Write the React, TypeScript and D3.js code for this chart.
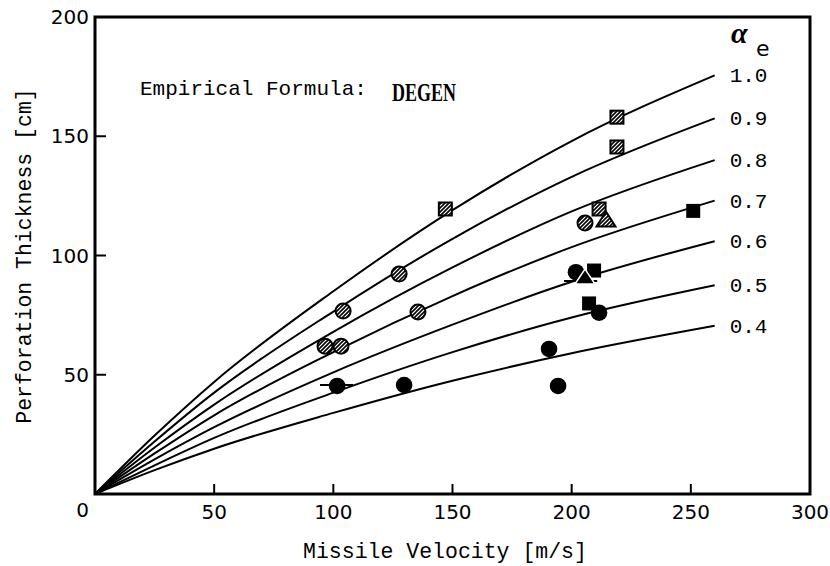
import React from "react";
import * as d3 from "d3";

// ---- data ----
const velocities = [0, 25, 50, 100, 150, 200, 260];
const alphaLabels = ["1.0", "0.9", "0.8", "0.7", "0.6", "0.5", "0.4"];
const curveA10 = [0, 24.5, 47, 85, 119, 148, 175.5];
const curveA09 = [0, 22, 42.5, 76.5, 107, 133, 157.5];
const curveA08 = [0, 19.5, 37.5, 68, 95, 118.5, 140];
const curveA07 = [0, 17, 33, 59.5, 83, 103.5, 123];
const curveA06 = [0, 14.5, 28, 51, 71, 89, 106];
const curveA05 = [0, 12, 23.5, 42.5, 59.5, 74, 87.5];
const curveA04 = [0, 10, 19, 34, 47.5, 59, 70.5];
const curves = [curveA10, curveA09, curveA08, curveA07, curveA06, curveA05, curveA04];

const xTicks = [50, 100, 150, 200, 250, 300];
const yTicks = [50, 100, 150, 200];

// markers: [velocity, thickness]
const hatchedSquares = [[147, 119.5], [219, 158], [219, 145.5], [211.5, 119.5]];
const hatchedCircles = [[205.6, 113.6], [127.6, 92.2], [104.1, 76.7], [135.5, 76.3], [96.5, 62], [103.2, 62]];
const hatchedTriangles = [[214.4, 115.3]];
const filledCircles = [[211.5, 76], [190.5, 60.8], [194.3, 45.3], [129.7, 45.7], [101.6, 45.3], [201.8, 93]];
const filledSquares = [[251, 118.7], [209.4, 93.7], [207.3, 79.9]];
const filledTriangles = [[205.6, 91.2]];
// horizontal bars: [vLow, vHigh, thickness]
const bars = [[94.4, 108.3, 45.7], [196.8, 210.7, 89.3]];

export default function App() {
  const x = d3.scaleLinear().domain([0, 300]).range([95, 810]);
  const y = d3.scaleLinear().domain([0, 200]).range([494, 17]);
  const line = d3
    .line<number>()
    .x((_, i) => x(velocities[i]))
    .y((d) => y(d))
    .curve(d3.curveMonotoneX);

  const mono = "'Liberation Mono', 'DejaVu Sans Mono', monospace";
  const sans = "'DejaVu Sans', sans-serif";
  const tri = (cx: number, cy: number, w: number, h: number) =>
    `M${cx - w / 2},${cy + h / 2}L${cx},${cy - h / 2}L${cx + w / 2},${cy + h / 2}Z`;

  return (
    <svg
      width={830}
      height={566}
      style={{ position: "absolute", left: 0, top: 0, background: "#fff" }}
    >
      <defs>
        <pattern id="hatch" patternUnits="userSpaceOnUse" width={4} height={4}>
          <rect width={4} height={4} fill="#fff" />
          <path d="M-1,1 l2,-2 M0,4 l4,-4 M3,5 l2,-2" stroke="#000" strokeWidth={1.6} />
        </pattern>
      </defs>

      {/* frame */}
      <rect
        x={x(0)}
        y={y(200)}
        width={x(300) - x(0)}
        height={y(0) - y(200)}
        fill="none"
        stroke="#000"
        strokeWidth={3}
      />
      {/* ticks */}
      {xTicks.slice(0, -1).map((t) => (
        <line key={"xt" + t} x1={x(t)} x2={x(t)} y1={y(0)} y2={y(0) - 10} stroke="#000" strokeWidth={2} />
      ))}
      {yTicks.slice(0, -1).map((t) => (
        <line key={"yt" + t} x1={x(0)} x2={x(0) + 11} y1={y(t)} y2={y(t)} stroke="#000" strokeWidth={2} />
      ))}
      {xTicks.map((t) => (
        <text key={"xl" + t} x={x(t)} y={y(0) + 25} textAnchor="middle" fontFamily={sans} fontSize={20}>
          {t}
        </text>
      ))}
      <text x={x(0) - 6} y={y(0) + 23} textAnchor="end" fontFamily={sans} fontSize={20}>
        0
      </text>
      {yTicks.map((t) => (
        <text key={"yl" + t} x={x(0) - 6} y={y(t) + 7} textAnchor="end" fontFamily={sans} fontSize={20}>
          {t}
        </text>
      ))}

      {/* axis titles */}
      <text x={445} y={558} textAnchor="middle" fontFamily={mono} fontSize={21.5}>
        Missile Velocity [m/s]
      </text>
      <text
        transform="translate(31,256) rotate(-90)"
        textAnchor="middle"
        fontFamily={mono}
        fontSize={21.5}
      >
        Perforation Thickness [cm]
      </text>

      {/* annotation */}
      <text x={140} y={95} fontFamily={mono} fontSize={21}>
        Empirical Formula:
      </text>
      <text
        x={392}
        y={101}
        fontFamily="'Liberation Serif', serif"
        fontWeight="bold"
        fontSize={25}
        textLength={64}
        lengthAdjust="spacingAndGlyphs"
      >
        DEGEN
      </text>
      <text x={731} y={43} fontFamily="'Liberation Serif', serif" fontWeight="bold" fontStyle="italic" fontSize={30}>
        α
      </text>
      <text x={756} y={56} fontFamily={sans} fontSize={22}>
        e
      </text>

      {/* curves */}
      {curves.map((c, i) => (
        <g key={"c" + i}>
          <path d={line(c) || ""} fill="none" stroke="#000" strokeWidth={2} />
          <text
            x={x(velocities[velocities.length - 1]) + 15}
            y={y(c[c.length - 1]) + 7}
            fontFamily={mono}
            fontSize={21}
          >
            {alphaLabels[i]}
          </text>
        </g>
      ))}

      {/* bars */}
      {bars.map((b, i) => (
        <line key={"b" + i} x1={x(b[0])} x2={x(b[1])} y1={y(b[2])} y2={y(b[2])} stroke="#000" strokeWidth={2} />
      ))}

      {/* markers */}
      {hatchedSquares.map((p, i) => (
        <rect key={"hs" + i} x={x(p[0]) - 6.5} y={y(p[1]) - 6.5} width={13} height={13} fill="url(#hatch)" stroke="#000" strokeWidth={2} />
      ))}
      {hatchedCircles.map((p, i) => (
        <circle key={"hc" + i} cx={x(p[0])} cy={y(p[1])} r={7.5} fill="url(#hatch)" stroke="#000" strokeWidth={2} />
      ))}
      {hatchedTriangles.map((p, i) => (
        <path key={"ht" + i} d={tri(x(p[0]), y(p[1]), 19, 15)} fill="url(#hatch)" stroke="#000" strokeWidth={2} />
      ))}
      {filledCircles.map((p, i) => (
        <circle key={"fc" + i} cx={x(p[0])} cy={y(p[1])} r={8.3} fill="#000" />
      ))}
      {filledSquares.map((p, i) => (
        <rect key={"fs" + i} x={x(p[0]) - 7} y={y(p[1]) - 7} width={14} height={14} fill="#000" />
      ))}
      {filledTriangles.map((p, i) => (
        <path key={"ft" + i} d={tri(x(p[0]), y(p[1]), 20, 15)} fill="#000" stroke="#fff" strokeWidth={1.5} />
      ))}
    </svg>
  );
}
